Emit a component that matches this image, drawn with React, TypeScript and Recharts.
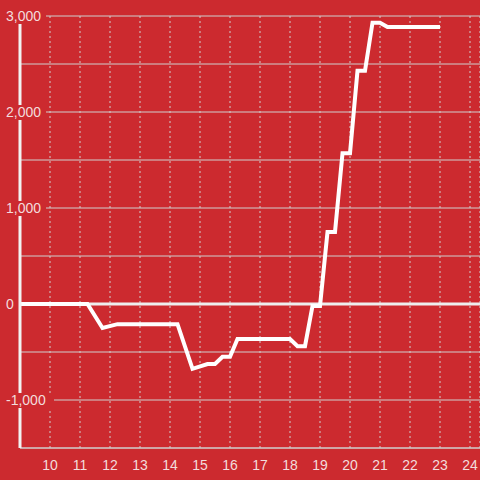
import {
  LineChart,
  Line,
  XAxis,
  YAxis,
  CartesianGrid,
  ReferenceLine,
} from "recharts";

const hours = [
  9, 11.25, 11.75, 12.25, 14.25, 14.75, 15.25, 15.5, 15.75, 16, 16.25, 18,
  18.25, 18.5, 18.75, 19, 19.25, 19.5, 19.75, 20, 20.25, 20.5, 20.75, 21,
  21.25, 23,
];
const balance = [
  0, 0, -250, -210, -210, -675, -625, -625, -550, -550, -365, -365, -440,
  -440, -20, -20, 750, 750, 1570, 1570, 2430, 2430, 2930, 2930, 2885, 2885,
];
const xTicks = [10, 11, 12, 13, 14, 15, 16, 17, 18, 19, 20, 21, 22, 23, 24];
const yTicks = [-1500, -1000, -500, 0, 500, 1000, 1500, 2000, 2500, 3000];
const yLabelled = [-1000, 0, 1000, 2000, 3000];

const data = hours.map((h, i) => ({ h, v: balance[i] }));

const BG = "#cc2a2f";
const TEXT = "#f3dcdc";
const GRID = "#cfcfcf";
const FONT = "'Liberation Sans', Arial, sans-serif";

function YTick(props: any) {
  const { y, payload } = props;
  if (!yLabelled.includes(payload.value)) return <g />;
  const label = payload.value.toLocaleString("en-US");
  const w = label.length * 8 + 2;
  return (
    <g>
      <rect x={4} y={y - 7} width={w} height={15} fill={BG} />
      <text
        x={6}
        y={y}
        dy={5}
        fill={TEXT}
        fontSize={14}
        fontFamily={FONT}
        textAnchor="start"
      >
        {label}
      </text>
    </g>
  );
}

export default function App() {
  return (
    <div
      style={{
        position: "absolute",
        left: 0,
        top: 0,
        width: 480,
        height: 480,
        background: BG,
      }}
    >
      <LineChart
        width={480}
        height={480}
        data={data}
        margin={{ top: 16, right: 0, bottom: 0, left: 0 }}
      >
        <CartesianGrid
          horizontal={true}
          vertical={false}
          stroke={GRID}
          strokeWidth={1}
        />
        <CartesianGrid
          horizontal={false}
          vertical={true}
          stroke={GRID}
          strokeDasharray="2 3"
        />
        <ReferenceLine y={0} stroke="#eeeeee" strokeWidth={3} />
        <XAxis
          dataKey="h"
          type="number"
          domain={[9, 24 + 1 / 3]}
          ticks={xTicks}
          allowDataOverflow
          height={32}
          axisLine={{ stroke: GRID, strokeWidth: 1 }}
          tickLine={false}
          tickMargin={6}
          tick={{ fill: TEXT, fontSize: 14, fontFamily: FONT }}
        />
        <YAxis
          type="number"
          domain={[-1500, 3000]}
          ticks={yTicks}
          width={20}
          axisLine={{ stroke: "#f2f2f2", strokeWidth: 3 }}
          tickLine={false}
          tick={(p: any) => <YTick {...p} />}
        />
        <Line
          type="linear"
          dataKey="v"
          stroke="#ffffff"
          strokeWidth={4}
          dot={false}
          isAnimationActive={false}
        />
      </LineChart>
    </div>
  );
}
